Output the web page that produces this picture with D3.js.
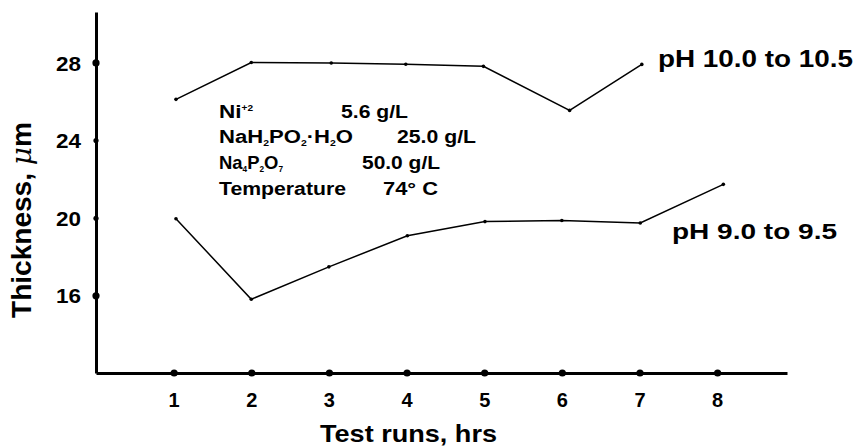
<!DOCTYPE html>
<html>
<head>
<meta charset="utf-8">
<script src="https://cdn.jsdelivr.net/npm/d3@7"></script>
<style>
  html, body { margin: 0; padding: 0; background: #fff; }
  svg { display: block; }
  text { font-family: "Liberation Sans", Arial, Helvetica, sans-serif; font-weight: bold; fill: #000; }
</style>
</head>
<body>
<svg id="chart" width="857" height="446"></svg>
<script>
// Test run hours on the x axis
const xTicks = [1, 2, 3, 4, 5, 6, 7, 8];
const yTicks = [16, 20, 24, 28];

// pH 10.0 to 10.5 series
const highHours = [1.03, 2, 3.03, 3.99, 4.99, 6.1, 7.03];
const highThickness = [26.1, 28.0, 27.97, 27.91, 27.8, 25.53, 27.9];

// pH 9.0 to 9.5 series
const lowHours = [1.03, 2, 3, 4.01, 5.01, 6.0, 7.01, 8.08];
const lowThickness = [19.95, 15.8, 17.47, 19.07, 19.8, 19.86, 19.73, 21.72];

const seriesLabels = ["pH 10.0 to 10.5", "pH 9.0 to 9.5"];

// Bath composition rows: [text, shift] where shift 1 = superscript, -1 = subscript
const bathNames = [
  [["Ni", 0], ["+2", 1]],
  [["NaH", 0], ["2", -1], ["PO", 0], ["2", -1], ["·H", 0], ["2", -1], ["O", 0]],
  [["Na", 0], ["4", -1], ["P", 0], ["2", -1], ["O", 0], ["7", -1]],
  [["Temperature", 0]]
];
const bathValues = ["5.6 g/L", "25.0 g/L", "50.0 g/L", "74° C"];

const svg = d3.select("#chart");

const x = d3.scaleLinear().domain([0, 8.9]).range([96, 787]);
const y = d3.scaleLinear().domain([12, 30.6]).range([373, 12]);

// axes
const xAxis = svg.append("g").attr("transform", `translate(0,${y(12)})`)
  .call(d3.axisBottom(x).tickValues(xTicks).tickSize(0).tickPadding(15).tickFormat(d3.format("d")));
xAxis.attr("font-family", null).attr("font-size", null);
xAxis.select(".domain").attr("stroke", "#000").attr("stroke-width", 3);
xAxis.selectAll(".tick text").attr("font-size", 20).attr("dy", "0.95em");
xAxis.selectAll(".tick").append("circle").attr("r", 3.6).attr("fill", "#000");

const yAxis = svg.append("g").attr("transform", `translate(${x(0)},0)`)
  .call(d3.axisLeft(y).tickValues(yTicks).tickSize(0).tickPadding(15).tickFormat(d3.format("d")));
yAxis.attr("font-family", null).attr("font-size", null);
yAxis.select(".domain").attr("stroke", "#000").attr("stroke-width", 3);
yAxis.selectAll(".tick text").attr("font-size", 20).attr("dy", "0.38em")
  .attr("textLength", 25).attr("lengthAdjust", "spacingAndGlyphs");
yAxis.selectAll(".tick").append("circle").attr("r", d => (d === 28 || d === 16) ? 3.6 : 2.6).attr("fill", "#000");

// series lines
const line = d3.line().x(d => x(d[0])).y(d => y(d[1]));
const series = [
  d3.zip(highHours, highThickness),
  d3.zip(lowHours, lowThickness)
];
series.forEach(pts => {
  svg.append("path").datum(pts).attr("d", line)
    .attr("fill", "none").attr("stroke", "#000").attr("stroke-width", 1.5);
  svg.append("g").selectAll("circle").data(pts).join("circle")
    .attr("cx", d => x(d[0])).attr("cy", d => y(d[1])).attr("r", 1.8).attr("fill", "#000");
});

// series labels
svg.append("text").attr("x", 658).attr("y", 67).attr("font-size", 23)
  .attr("textLength", 195).attr("lengthAdjust", "spacingAndGlyphs").text(seriesLabels[0]);
svg.append("text").attr("x", 672).attr("y", 238.5).attr("font-size", 22)
  .attr("textLength", 165).attr("lengthAdjust", "spacingAndGlyphs").text(seriesLabels[1]);

// bath composition block, each name spread to its printed width
const nameWidths = [34, 134, 64, 127];
const nameSizes = [19, 18, 19, 18];
const valueX = [341, 397, 362, 383];
const valueWidths = [67, 79, 78, 55];
bathNames.forEach((parts, i) => {
  const by = 117.5 + i * 25.7;
  const t = svg.append("text").attr("x", 219).attr("y", by).attr("font-size", nameSizes[i])
    .attr("textLength", nameWidths[i]).attr("lengthAdjust", "spacingAndGlyphs");
  let offset = 0;
  parts.forEach(([s, shift]) => {
    const target = shift > 0 ? -7 : (shift < 0 ? 3 : 0);
    const ts = t.append("tspan").text(s).attr("dy", target - offset);
    if (shift !== 0) ts.attr("font-size", 8.5);
    offset = target;
  });
  svg.append("text").attr("x", valueX[i]).attr("y", by).attr("font-size", 17.5)
    .attr("textLength", valueWidths[i]).attr("lengthAdjust", "spacingAndGlyphs")
    .text(bathValues[i]);
});

// axis titles
svg.append("text").attr("x", 320).attr("y", 441.5).attr("font-size", 24)
  .attr("textLength", 177).attr("lengthAdjust", "spacingAndGlyphs").text("Test runs, hrs");

const yTitle = svg.append("text").attr("transform", "translate(31,318) rotate(-90)")
  .attr("font-size", 27).attr("textLength", 196).attr("lengthAdjust", "spacingAndGlyphs");
yTitle.append("tspan").text("Thickness, ");
yTitle.append("tspan").attr("font-style", "italic").attr("font-family", "\"DejaVu Serif\", serif")
  .attr("font-weight", "normal").text("μ");
yTitle.append("tspan").text("m");
</script>
</body>
</html>
